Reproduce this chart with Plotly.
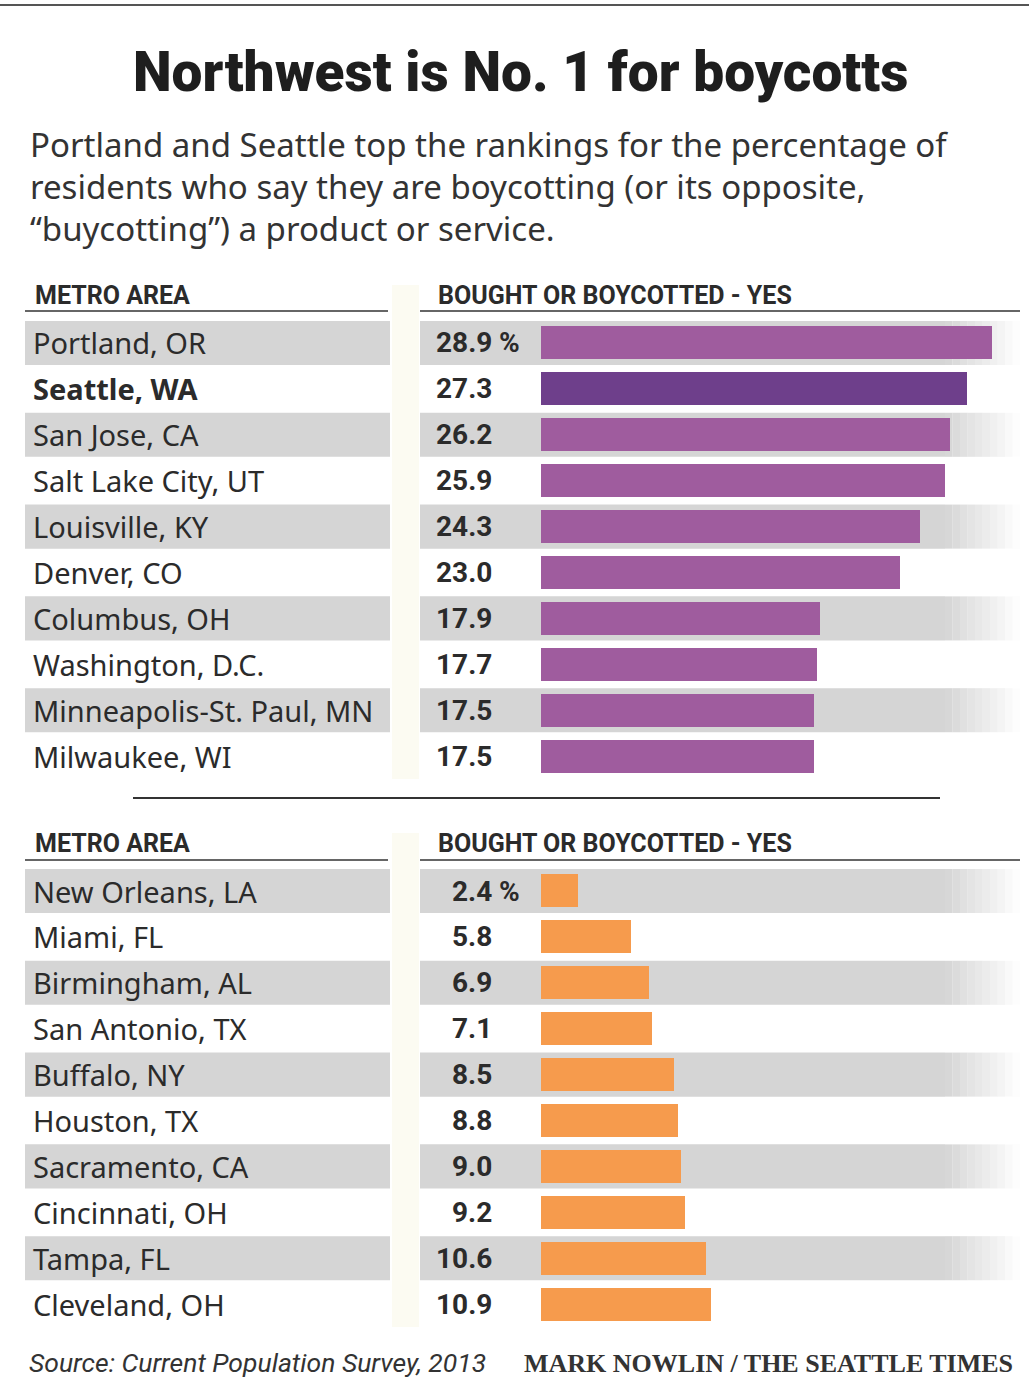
import plotly.graph_objects as go

# ---------------- data ----------------
top_metros = ["Portland, OR", "Seattle, WA", "San Jose, CA", "Salt Lake City, UT", "Louisville, KY",
              "Denver, CO", "Columbus, OH", "Washington, D.C.", "Minneapolis-St. Paul, MN", "Milwaukee, WI"]
top_values = [28.9, 27.3, 26.2, 25.9, 24.3, 23.0, 17.9, 17.7, 17.5, 17.5]
bottom_metros = ["New Orleans, LA", "Miami, FL", "Birmingham, AL", "San Antonio, TX", "Buffalo, NY",
                 "Houston, TX", "Sacramento, CA", "Cincinnati, OH", "Tampa, FL", "Cleveland, OH"]
bottom_values = [2.4, 5.8, 6.9, 7.1, 8.5, 8.8, 9.0, 9.2, 10.6, 10.9]
highlight_metro = "Seattle, WA"

title = "Northwest is No. 1 for boycotts"
subtitle_lines = ["Portland and Seattle top the rankings for the percentage of",
                  "residents who say they are boycotting (or its opposite,",
                  "\u201cbuycotting\u201d) a product or service."]
header_left = "METRO AREA"
header_right = "BOUGHT OR BOYCOTTED - YES"
source = "Source: Current Population Survey, 2013"
credit = "MARK NOWLIN / THE SEATTLE TIMES"

# ---------------- layout helpers ----------------
W, H = 1029, 1377
PITCH = 45.9
BAR_X0 = 541
PX_PER_UNIT = 15.6
PLOT_XEND = 1020


def fx(p):
    return p / W


def fy(p):
    return 1 - p / H


NARROW = "Roboto, Liberation Sans, sans-serif"
BODY = "Noto Sans, Open Sans, sans-serif"
TEXT_COL = "#2b2b2b"
GRAY = "#d5d5d5"

fig = go.Figure()
shapes = []
annotations = []

sections = [
    dict(metros=top_metros, values=top_values, ax="", header_y=295, rule_y=311, first=343,
         color="#9f5c9e", hl_color="#6e3f8b"),
    dict(metros=bottom_metros, values=bottom_values, ax="2", header_y=843, rule_y=860, first=891,
         color="#f69b4d", hl_color="#f69b4d"),
]

layout_axes = {}
for s in sections:
    n = len(s["metros"])
    xa = "x" + s["ax"]
    ya = "y" + s["ax"]
    top_px = s["first"] - PITCH / 2
    bot_px = s["first"] + (n - 1) * PITCH + PITCH / 2
    layout_axes["xaxis" + s["ax"]] = dict(domain=[fx(BAR_X0), fx(PLOT_XEND)],
                                          range=[0, (PLOT_XEND - BAR_X0) / PX_PER_UNIT],
                                          visible=False, fixedrange=True)
    layout_axes["yaxis" + s["ax"]] = dict(domain=[fy(bot_px), fy(top_px)], range=[n - 0.5, -0.5],
                                          visible=False, fixedrange=True)
    if s["ax"] == "2":
        layout_axes["xaxis2"]["anchor"] = "y2"
        layout_axes["yaxis2"]["anchor"] = "x2"

    rows = list(range(n))
    colors = [s["hl_color"] if m == highlight_metro else s["color"] for m in s["metros"]]
    fig.add_trace(go.Bar(x=s["values"], y=rows, orientation="h", width=0.72,
                         marker=dict(color=colors, line=dict(width=0)),
                         xaxis=xa, yaxis=ya, showlegend=False, hoverinfo="skip"))

    # cream separator strip
    shapes.append(dict(type="rect", xref="paper", yref="paper", x0=fx(392), x1=fx(419),
                       y0=fy(bot_px), y1=fy(s["header_y"] - 10), fillcolor="#fcfbf2",
                       line=dict(width=0), layer="below"))

    # header texts and rules
    annotations.append(dict(x=fx(33), y=fy(s["header_y"]), xref="paper", yref="paper",
                            text="<b>" + header_left + "</b>", showarrow=False, xanchor="left",
                            yanchor="middle", font=dict(family=NARROW, size=25, color=TEXT_COL)))
    annotations.append(dict(x=fx(436), y=fy(s["header_y"]), xref="paper", yref="paper",
                            text="<b>" + header_right + "</b>", showarrow=False, xanchor="left",
                            yanchor="middle", font=dict(family=NARROW, size=25, color=TEXT_COL)))
    shapes.append(dict(type="line", xref="paper", yref="paper", x0=fx(25), x1=fx(388),
                       y0=fy(s["rule_y"]), y1=fy(s["rule_y"]), line=dict(color="#333333", width=1.5)))
    shapes.append(dict(type="line", xref="paper", yref="paper", x0=fx(420), x1=fx(1020),
                       y0=fy(s["rule_y"]), y1=fy(s["rule_y"]), line=dict(color="#333333", width=1.5)))

    for i, (m, v) in enumerate(zip(s["metros"], s["values"])):
        if i % 2 == 0:
            shapes.append(dict(type="rect", xref="paper", yref=ya, x0=fx(25), x1=fx(390),
                               y0=i - 0.48, y1=i + 0.48, fillcolor=GRAY, line=dict(width=0), layer="below"))
            shapes.append(dict(type="rect", xref="paper", yref=ya, x0=fx(420), x1=fx(945),
                               y0=i - 0.48, y1=i + 0.48, fillcolor=GRAY, line=dict(width=0), layer="below"))
            steps = 10
            for k in range(steps):
                a = 1 - (k + 0.5) / steps
                shapes.append(dict(type="rect", xref="paper", yref=ya, x0=fx(945 + k * 7.5),
                                   x1=fx(945 + (k + 1) * 7.5), y0=i - 0.48, y1=i + 0.48,
                                   fillcolor=GRAY, opacity=a, line=dict(width=0), layer="below"))
        label = "<b>" + m + "</b>" if m == highlight_metro else m
        annotations.append(dict(x=fx(31), y=i + 0.0, xref="paper", yref=ya, text=label,
                                showarrow=False, xanchor="left", yanchor="middle",
                                font=dict(family=BODY, size=29, color=TEXT_COL)))
        annotations.append(dict(x=fx(494), y=i, xref="paper", yref=ya, text="<b>%.1f</b>" % v,
                                showarrow=False, xanchor="right", yanchor="middle",
                                font=dict(family=NARROW, size=28, color=TEXT_COL)))
        if i == 0:
            annotations.append(dict(x=fx(497), y=i, xref="paper", yref=ya, text="<b>%</b>",
                                    showarrow=False, xanchor="left", yanchor="middle",
                                    font=dict(family=NARROW, size=28, color=TEXT_COL)))

# top border, section divider
shapes.append(dict(type="line", xref="paper", yref="paper", x0=0, x1=1, y0=fy(5), y1=fy(5),
                   line=dict(color="#555555", width=2)))
shapes.append(dict(type="line", xref="paper", yref="paper", x0=fx(133), x1=fx(940), y0=fy(798), y1=fy(798),
                   line=dict(color="#333333", width=2)))

# title / subtitle
annotations.append(dict(x=fx(520), y=fy(72), xref="paper", yref="paper", text=title,
                        showarrow=False, xanchor="center", yanchor="middle",
                        font=dict(family=NARROW, size=55, color="#1e1e1e", weight=900)))
for j, line in enumerate(subtitle_lines):
    annotations.append(dict(x=fx(28), y=fy(145 + j * 41.5), xref="paper", yref="paper", text=line,
                            showarrow=False, xanchor="left", yanchor="middle",
                            font=dict(family=BODY, size=33, color="#333333")))

# footer
annotations.append(dict(x=fx(27), y=fy(1362), xref="paper", yref="paper", text="<i>" + source + "</i>",
                        showarrow=False, xanchor="left", yanchor="middle",
                        font=dict(family=NARROW, size=26.5, color="#333333")))
annotations.append(dict(x=fx(1015), y=fy(1363), xref="paper", yref="paper", text="<b>" + credit + "</b>",
                        showarrow=False, xanchor="right", yanchor="middle",
                        font=dict(family="Liberation Serif, DejaVu Serif, serif", size=26, color="#333333")))

fig.update_layout(width=W, height=H, margin=dict(l=0, r=0, t=0, b=0),
                  paper_bgcolor="white", plot_bgcolor="rgba(0,0,0,0)",
                  shapes=shapes, annotations=annotations, bargap=0, **layout_axes)

fig.write_html("out.html", config={"displayModeBar": False},
               post_script="document.body.style.margin='0';document.body.style.overflow='hidden';")
